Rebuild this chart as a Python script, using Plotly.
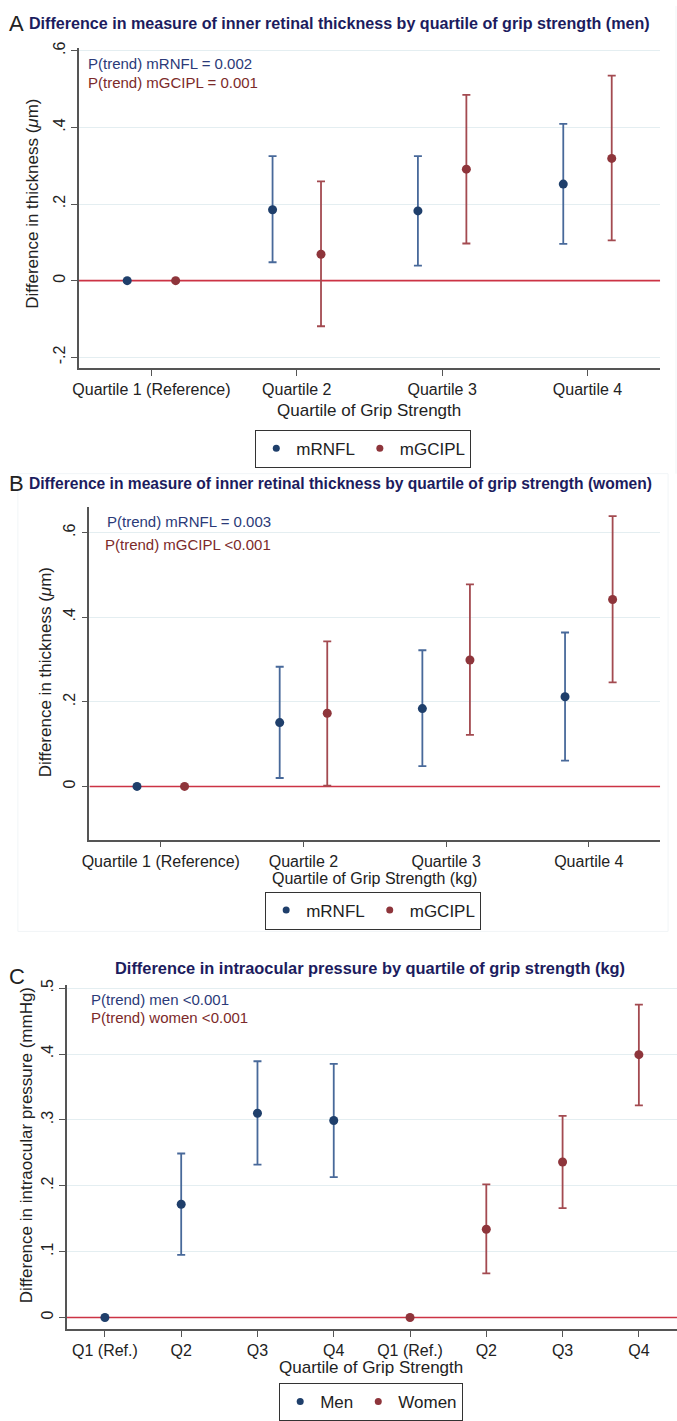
import plotly.graph_objects as go

W, H = 677, 1421

# ---------------- data ----------------
quartiles_ab = ["Quartile 1 (Reference)", "Quartile 2", "Quartile 3", "Quartile 4"]

# Panel A (men)
a_rnfl_est = [0.0, 0.185, 0.182, 0.252]
a_rnfl_lo = [0.0, 0.048, 0.039, 0.096]
a_rnfl_hi = [0.0, 0.325, 0.325, 0.409]
a_gcipl_est = [0.0, 0.069, 0.291, 0.319]
a_gcipl_lo = [0.0, -0.119, 0.097, 0.105]
a_gcipl_hi = [0.0, 0.259, 0.485, 0.535]

# Panel B (women)
b_rnfl_est = [0.0, 0.151, 0.184, 0.212]
b_rnfl_lo = [0.0, 0.020, 0.048, 0.061]
b_rnfl_hi = [0.0, 0.283, 0.322, 0.364]
b_gcipl_est = [0.0, 0.173, 0.299, 0.442]
b_gcipl_lo = [0.0, 0.002, 0.122, 0.246]
b_gcipl_hi = [0.0, 0.343, 0.478, 0.639]

# Panel C (intraocular pressure)
quartiles_c = ["Q1 (Ref.)", "Q2", "Q3", "Q4", "Q1 (Ref.)", "Q2", "Q3", "Q4"]
c_men_est = [0.0, 0.172, 0.310, 0.299]
c_men_lo = [0.0, 0.095, 0.232, 0.213]
c_men_hi = [0.0, 0.249, 0.389, 0.385]
c_women_est = [0.0, 0.134, 0.236, 0.399]
c_women_lo = [0.0, 0.067, 0.166, 0.322]
c_women_hi = [0.0, 0.202, 0.306, 0.475]

ticks_a = [-0.2, 0, 0.2, 0.4, 0.6]
ticklab_a = ["-.2", "0", ".2", ".4", ".6"]
ticks_b = [0, 0.2, 0.4, 0.6]
ticklab_b = ["0", ".2", ".4", ".6"]
ticks_c = [0, 0.1, 0.2, 0.3, 0.4, 0.5]
ticklab_c = ["0", ".1", ".2", ".3", ".4", ".5"]

# ---------------- style ----------------
FONT = "Liberation Sans, Arial, sans-serif"
NAVY = "#1f3f6b"
NAVY_BAR = "#48699a"
MAROON = "#8e353b"
MAROON_BAR = "#a34a50"
TITLE_C = "#1c1c5e"
GRID = "#e4eef1"
AXIS = "#555555"
ZERO = "#cc3344"


def px_x(p):
    return p / W


def px_y(p):
    return 1 - p / H


fig = go.Figure()

# axis geometry (pixels)
panels = {
    # name: (xleft, xright, ytop, ybottom, zero_px, px_per_unit, ncat)
    "1": (72.5, 660, 42, 364, 276, 385, 4),
    "2": (83.3, 660, 503, 837.7, 784.3, 425, 4),
    "3": (60.4, 677, 984, 1329.3, 1318, 662, 8),
}

# red reference line at zero (drawn first, under the markers)
for k, p in panels.items():
    n = p[6]
    xa = "x" if k == "1" else f"x{k}"
    ya = "y" if k == "1" else f"y{k}"
    fig.add_trace(go.Scatter(x=[0.5, n + 0.5], y=[0, 0], mode="lines", xaxis=xa, yaxis=ya,
                             line=dict(color=ZERO, width=1.6), showlegend=False,
                             hoverinfo="skip", cliponaxis=False))


def err(est, lo, hi):
    return dict(type="data", symmetric=False,
                array=[h - e for e, h in zip(est, hi)],
                arrayminus=[e - l for e, l in zip(est, lo)])


def add_pair(xa, ya, est1, lo1, hi1, est2, lo2, hi2, x1, x2, names, legend):
    for xs, est, lo, hi, col, bcol, nm in [
        (x1, est1, lo1, hi1, NAVY, NAVY_BAR, names[0]),
        (x2, est2, lo2, hi2, MAROON, MAROON_BAR, names[1]),
    ]:
        fig.add_trace(go.Scatter(
            x=xs, y=est, mode="markers", xaxis=xa, yaxis=ya,
            marker=dict(color=col, size=9),
            error_y=dict(**err(est, lo, hi), color=bcol, thickness=1.8, width=4),
            showlegend=False, cliponaxis=False))
        fig.add_trace(go.Scatter(
            x=[None], y=[None], mode="markers", xaxis=xa, yaxis=ya,
            marker=dict(color=col, size=7), name=nm, legend=legend,
            showlegend=True))


pos = [1, 2, 3, 4]
off = 1 / 6
add_pair("x", "y", a_rnfl_est, a_rnfl_lo, a_rnfl_hi, a_gcipl_est, a_gcipl_lo, a_gcipl_hi,
         [p - off for p in pos], [p + off for p in pos], ["mRNFL", "mGCIPL"], "legend")
add_pair("x2", "y2", b_rnfl_est, b_rnfl_lo, b_rnfl_hi, b_gcipl_est, b_gcipl_lo, b_gcipl_hi,
         [p - off for p in pos], [p + off for p in pos], ["mRNFL", "mGCIPL"], "legend2")
add_pair("x3", "y3", c_men_est, c_men_lo, c_men_hi, c_women_est, c_women_lo, c_women_hi,
         [1, 2, 3, 4], [5, 6, 7, 8], ["Men", "Women"], "legend3")

ticks = {"1": (ticks_a, ticklab_a), "2": (ticks_b, ticklab_b), "3": (ticks_c, ticklab_c)}
xcats = {"1": quartiles_ab, "2": quartiles_ab, "3": quartiles_c}

layout = {}
for k, (xl, xr, yt, yb, z, ppu, n) in panels.items():
    xs = "xaxis" if k == "1" else f"xaxis{k}"
    ys = "yaxis" if k == "1" else f"yaxis{k}"
    xa = "x" if k == "1" else f"x{k}"
    ya = "y" if k == "1" else f"y{k}"
    layout[xs] = dict(
        domain=[px_x(xl), px_x(xr)], range=[0.5, n + 0.5], anchor=ya,
        tickmode="array", tickvals=list(range(1, n + 1)), ticktext=xcats[k],
        ticks="outside", ticklen=6, tickcolor=AXIS, tickwidth=1.2,
        showline=True, linecolor=AXIS, linewidth=1.5, showgrid=False, zeroline=False,
        tickfont=dict(family=FONT, size=16, color="#222222"), fixedrange=True)
    tv, tl = ticks[k]
    layout[ys] = dict(
        domain=[px_y(yb), px_y(yt)], range=[-(yb - z) / ppu, (z - yt) / ppu], anchor=xa,
        tickmode="array", tickvals=tv, ticktext=tl, tickangle=-90,
        ticks="outside", ticklen=6, tickcolor=AXIS, tickwidth=1.2,
        showline=True, linecolor=AXIS, linewidth=1.5,
        showgrid=True, gridcolor=GRID, gridwidth=1, zeroline=False,
        tickfont=dict(family=FONT, size=16, color="#222222"), fixedrange=True)

# faint outer frames
frame = "#f1f5f7"
shapes = [
    dict(type="line", xref="paper", yref="paper", x0=px_x(676), x1=px_x(676), y0=px_y(0), y1=px_y(470),
         line=dict(color=frame, width=1)),
    dict(type="rect", xref="paper", yref="paper", x0=px_x(11), x1=px_x(668), y0=px_y(930), y1=px_y(470),
         line=dict(color=frame, width=1)),
]

ann = []


def text(x, y, s, size=15, color="#222222", xanchor="left", bold=False, angle=0, font=FONT):
    ann.append(dict(x=px_x(x), y=px_y(y), xref="paper", yref="paper", text=(f"<b>{s}</b>" if bold else s),
                    showarrow=False, xanchor=xanchor, yanchor="middle", textangle=angle,
                    font=dict(family=font, size=size, color=color)))


# Panel labels and titles
text(0, 18, "A", size=22)
text(20, 17, "Difference in measure of inner retinal thickness by quartile of grip strength (men)",
     size=16.1, color=TITLE_C, bold=True)
text(0, 480, "B", size=22)
text(20, 480, "Difference in measure of inner retinal thickness by quartile of grip strength (women)",
     size=15.6, color=TITLE_C, bold=True)
text(0, 975, "C", size=22)
text(367, 967, "Difference in intraocular pressure by quartile of grip strength (kg)",
     size=16.4, color=TITLE_C, bold=True, xanchor="center")

# P(trend) notes
text(80, 58, "P(trend) mRNFL = 0.002", color="#2b3a78")
text(80, 77, "P(trend) mGCIPL = 0.001", color="#7c2a2a")
text(99, 518, "P(trend) mRNFL = 0.003", color="#2b3a78")
text(97, 541, "P(trend) mGCIPL <0.001", color="#7c2a2a")
text(83, 998, "P(trend) men <0.001", color="#2b3a78")
text(83, 1017, "P(trend) women <0.001", color="#7c2a2a")

# Axis titles
text(366, 406, "Quartile of Grip Strength", xanchor="center", size=17)
text(371, 877, "Quartile of Grip Strength (kg)", xanchor="center", size=16)
text(368, 1368, "Quartile of Grip Strength", xanchor="center", size=17)
text(25, 199, "Difference in thickness (<i>μ</i>m)", xanchor="center", size=17, angle=-90)
text(39, 670, "Difference in thickness (<i>μ</i>m)", xanchor="center", size=17, angle=-90)
text(20, 1145, "Difference in intraocular pressure (mmHg)", xanchor="center", size=17, angle=-90)

leg_common = dict(orientation="h", xanchor="center", yanchor="middle", bgcolor="white",
                  bordercolor="#333333", borderwidth=1, font=dict(family=FONT, size=17, color="#222222"),
                  itemwidth=30, tracegroupgap=0)

fig.update_layout(
    width=W, height=H, margin=dict(l=0, r=0, t=0, b=0),
    paper_bgcolor="white", plot_bgcolor="white",
    shapes=shapes, annotations=ann,
    legend=dict(**leg_common, x=px_x(360), y=px_y(445)),
    legend2=dict(**leg_common, x=px_x(370), y=px_y(909)),
    legend3=dict(**leg_common, x=px_x(368), y=px_y(1403)),
    **layout,
)

fig.write_html("out.html")
